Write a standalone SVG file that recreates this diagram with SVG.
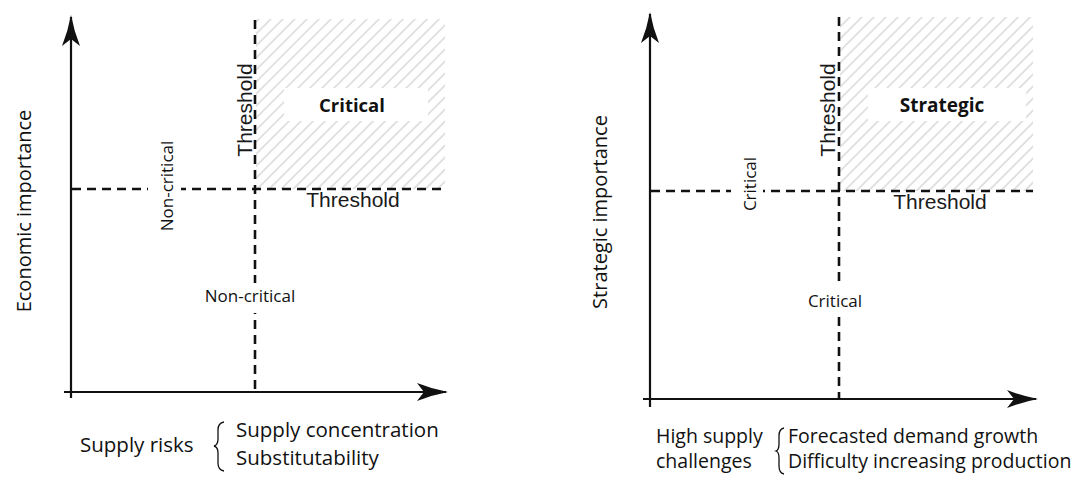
<svg xmlns="http://www.w3.org/2000/svg" width="1083" height="486" viewBox="0 0 1083 486">
<style>
.axis{stroke:#111;stroke-width:2.2;fill:none}
.dash{stroke:#111;stroke-width:2.6;stroke-dasharray:9 6;fill:none}
.brace{stroke:#111;stroke-width:1.3;fill:none}
.bg{fill:#fff}
.t{font-family:"Open Sans","Noto Sans",sans-serif;fill:#111}
.th{font-family:"Liberation Sans",Arial,sans-serif;font-size:21px;fill:#1a1a1a}
.b{font-family:"Open Sans","Noto Sans",sans-serif;font-weight:bold;fill:#111}
</style>
<defs>
<pattern id="hatch" patternUnits="userSpaceOnUse" width="8.5" height="8.5" patternTransform="rotate(45)">
<line x1="1" y1="0" x2="1" y2="8.5" stroke="#c4c4c4" stroke-width="1"/>
</pattern>
<marker id="arr" markerUnits="userSpaceOnUse" viewBox="0 0 31 18" refX="29" refY="9" markerWidth="31" markerHeight="18" orient="auto">
<path d="M31,9 Q15,6 0,0 L7,9 L0,18 Q15,12 31,9 Z" fill="#111"/>
</marker>
</defs>
<rect width="1083" height="486" fill="#fff"/>

<g id="left-panel">
<g id="left-region">
<rect x="256" y="19" width="189" height="170" fill="url(#hatch)"/>
<rect class="bg" x="284" y="88" width="144" height="33"/>
<text class="b" x="352" y="112" font-size="18.5" text-anchor="middle">Critical</text>
</g>
<g id="left-lines">
<line class="axis" x1="71" y1="398" x2="71" y2="17" marker-end="url(#arr)"/>
<line class="axis" x1="64" y1="392" x2="446" y2="392" marker-end="url(#arr)"/>
<line class="dash" x1="255" y1="20" x2="255" y2="392"/>
<line class="dash" x1="72" y1="189" x2="444" y2="189"/>
</g>
<text class="th" transform="translate(252,110) rotate(-90)" text-anchor="middle">Threshold</text>
<text class="th" x="353" y="207" text-anchor="middle">Threshold</text>
<g id="left-label-v">
<rect class="bg" x="148" y="138" width="33" height="96"/>
<text class="t" transform="translate(173,186) rotate(-90)" font-size="17" text-anchor="middle">Non-critical</text>
</g>
<g id="left-label-h">
<rect class="bg" x="200" y="283" width="100" height="30"/>
<text class="t" x="250" y="302" font-size="17" text-anchor="middle">Non-critical</text>
</g>
<text class="t" transform="translate(31,211) rotate(-90)" font-size="20" text-anchor="middle">Economic importance</text>
<text class="t" x="80" y="452" font-size="20.5">Supply risks</text>
<path class="brace" d="M224,422 Q218,423 218,430 L218,439 Q218,445 214,446 Q218,447 218,453 L218,463 Q218,470 224,471"/>
<text class="t" x="236" y="437" font-size="20.5">Supply concentration</text>
<text class="t" x="236" y="465" font-size="20.5">Substitutability</text>
</g>

<g id="right-panel">
<g id="right-region">
<rect x="840" y="17" width="193" height="174" fill="url(#hatch)"/>
<rect class="bg" x="868" y="88" width="158" height="33"/>
<text class="b" x="942" y="112" font-size="19" text-anchor="middle">Strategic</text>
</g>
<g id="right-lines">
<line class="axis" x1="650" y1="407" x2="650" y2="14" marker-end="url(#arr)"/>
<line class="axis" x1="643" y1="399" x2="1036" y2="399" marker-end="url(#arr)"/>
<line class="dash" x1="839" y1="17" x2="839" y2="399"/>
<line class="dash" x1="651" y1="191" x2="1033" y2="191"/>
</g>
<text class="th" transform="translate(835,110) rotate(-90)" text-anchor="middle">Threshold</text>
<text class="th" x="940" y="209" text-anchor="middle">Threshold</text>
<g id="right-label-v">
<rect class="bg" x="731" y="154" width="32" height="62"/>
<text class="t" transform="translate(756,184) rotate(-90)" font-size="17" text-anchor="middle">Critical</text>
</g>
<g id="right-label-h">
<rect class="bg" x="803" y="286" width="64" height="31"/>
<text class="t" x="835" y="307" font-size="17" text-anchor="middle">Critical</text>
</g>
<text class="t" transform="translate(607,212) rotate(-90)" font-size="20" text-anchor="middle">Strategic importance</text>
<text class="t" x="656" y="443" font-size="19.5">High supply</text>
<text class="t" x="656" y="468" font-size="19.5">challenges</text>
<path class="brace" d="M784,428 Q779,429 779,436 L779,444 Q779,450 776,451 Q779,452 779,458 L779,466 Q779,473 784,474"/>
<text class="t" x="788" y="443" font-size="19.5">Forecasted demand growth</text>
<text class="t" x="788" y="468" font-size="19.5">Difficulty increasing production</text>
</g>
</svg>
